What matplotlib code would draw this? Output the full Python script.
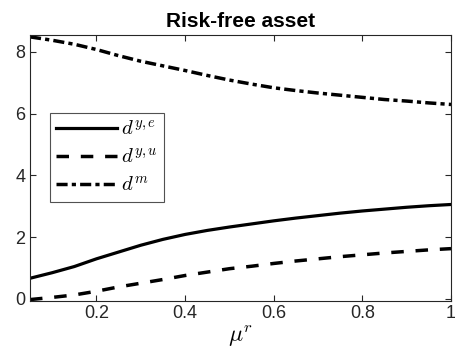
import matplotlib
matplotlib.use("Agg")
import matplotlib.pyplot as plt

mu_r = [0.05, 0.10, 0.15, 0.20, 0.25, 0.30, 0.35, 0.40, 0.45, 0.50,
        0.55, 0.60, 0.65, 0.70, 0.75, 0.80, 0.85, 0.90, 0.95, 1.00]
d_ye = [0.67, 0.85, 1.05, 1.30, 1.52, 1.74, 1.93, 2.09, 2.22, 2.33,
        2.43, 2.53, 2.62, 2.70, 2.78, 2.85, 2.91, 2.97, 3.02, 3.06]
d_yu = [-0.02, 0.05, 0.13, 0.25, 0.39, 0.51, 0.63, 0.76, 0.87, 0.98,
        1.06, 1.15, 1.23, 1.30, 1.37, 1.43, 1.49, 1.54, 1.59, 1.63]
d_m = [8.49, 8.38, 8.25, 8.08, 7.88, 7.70, 7.55, 7.40, 7.24, 7.09,
       6.96, 6.84, 6.75, 6.67, 6.60, 6.53, 6.46, 6.41, 6.35, 6.30]

plt.rcParams['font.family'] = ['Liberation Sans', 'DejaVu Sans']
plt.rcParams['mathtext.fontset'] = 'cm'

fig = plt.figure(figsize=(4.55, 3.58), dpi=100)
ax = fig.add_axes([30/455, 1-300.5/358, 421/455, 265.5/358])

ax.plot(mu_r, d_ye, color='black', lw=2.3, linestyle='-', label=r'$d^{y,e}$')
ax.plot(mu_r, d_yu, color='black', lw=2.5, linestyle=(0, (3.6, 3.4)), label=r'$d^{y,u}$')
ax.plot(mu_r, d_m, color='black', lw=2.5, linestyle=(0, (3.2, 1.2, 1.2, 1.2)), label=r'$d^{m}$')

ax.set_xlim(0.05, 1.0)
ax.set_ylim(-0.05, 8.55)
ax.set_xticks([0.2, 0.4, 0.6, 0.8, 1.0])
ax.set_xticklabels(['0.2', '0.4', '0.6', '0.8', '1'])
ax.set_yticks([0, 2, 4, 6, 8])
ax.tick_params(direction='in', top=True, right=True, labelsize=13, colors='#262626', length=4)
for s in ax.spines.values():
    s.set_color('#262626')
    s.set_linewidth(0.8)
ax.set_xlabel(r'$\mu^r$', fontsize=17, labelpad=1)
ax.set_title('Risk-free asset', fontsize=15, fontweight='bold', pad=6)

leg = ax.legend(loc='upper left', bbox_to_anchor=((50-30)/421, (300.5-113)/265.5),
                fontsize=15, frameon=True, fancybox=False, edgecolor='#262626',
                handlelength=2.9, borderpad=0.3, labelspacing=0.42, handletextpad=0.2,
                borderaxespad=0)
leg.get_frame().set_linewidth(0.8)

fig.savefig('out.png', dpi=100)
